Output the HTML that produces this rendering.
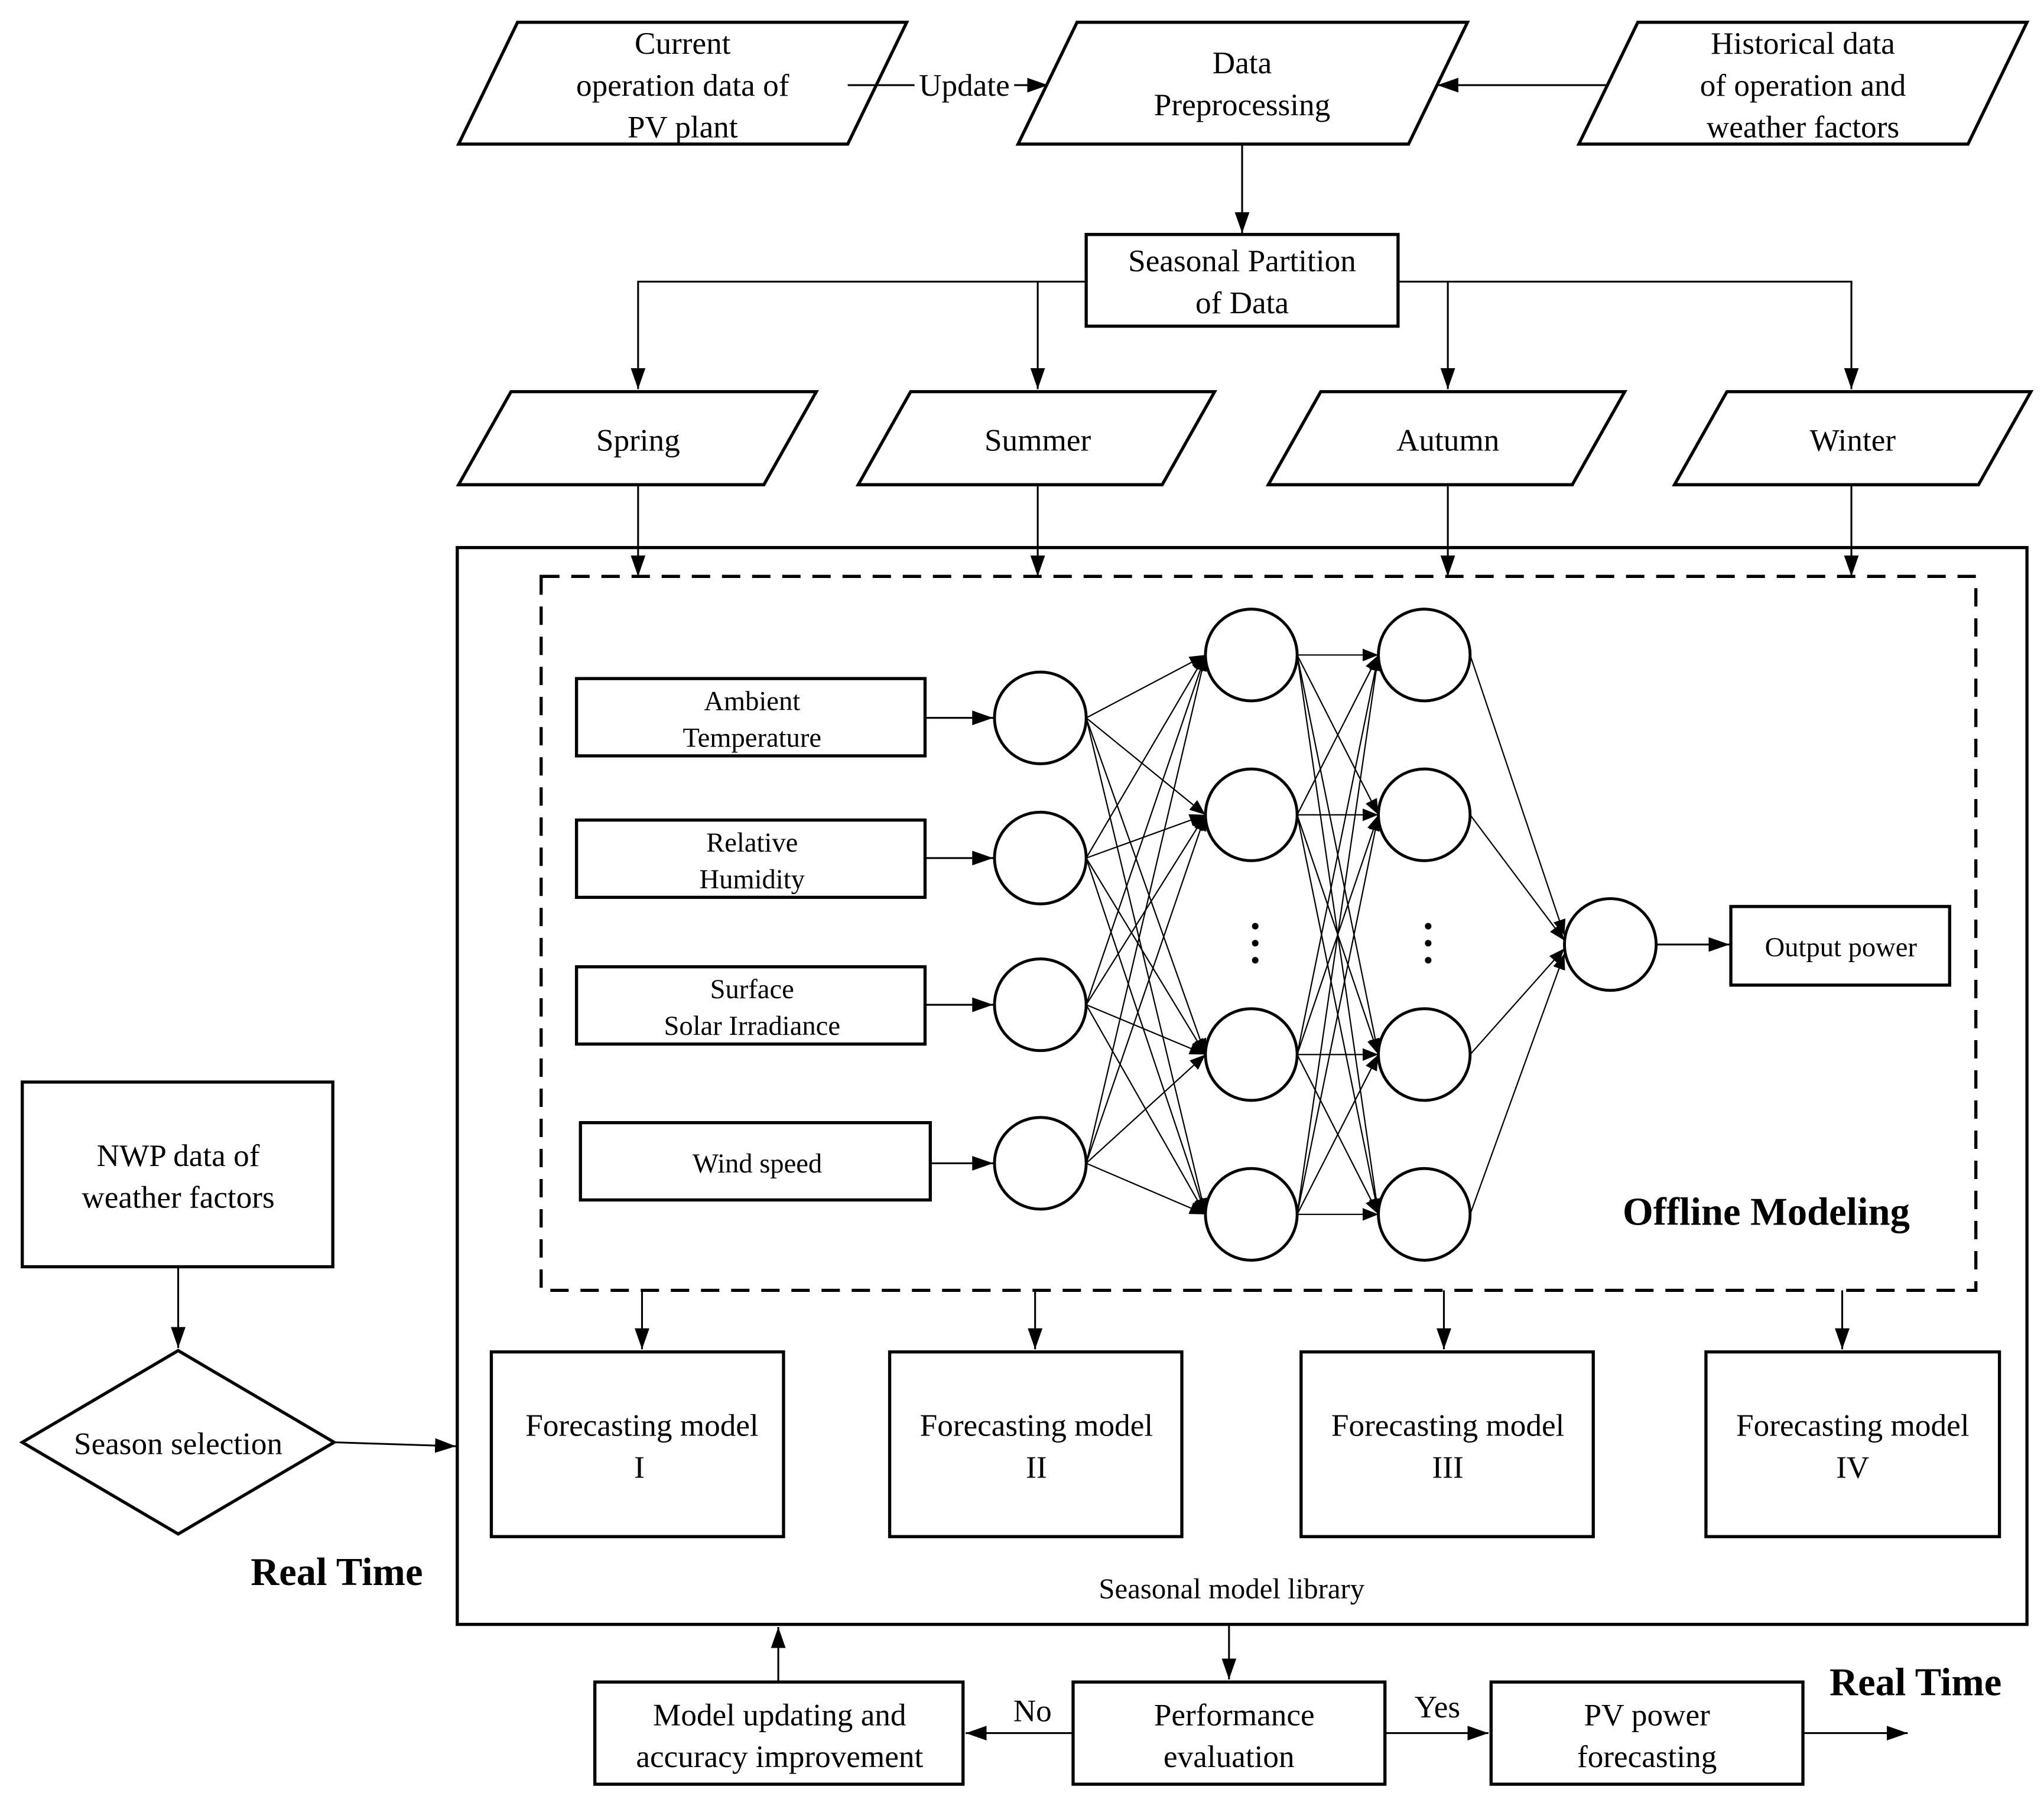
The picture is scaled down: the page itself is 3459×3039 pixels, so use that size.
<!DOCTYPE html>
<html><head><meta charset="utf-8"><style>html,body{margin:0;padding:0;background:#fff}svg{display:block}</style></head><body>
<svg width="3459" height="3039" viewBox="0 0 1560 1371" preserveAspectRatio="none" xmlns="http://www.w3.org/2000/svg" font-family="Liberation Serif, serif">
<defs>
<marker id="a" viewBox="0 0 10 10" refX="10" refY="5" markerWidth="12" markerHeight="12" markerUnits="userSpaceOnUse" orient="auto"><path d="M0,1L10,5L0,9z" fill="#000"/></marker>
<marker id="b" viewBox="0 0 10 10" refX="10" refY="5" markerWidth="16" markerHeight="16" markerUnits="userSpaceOnUse" orient="auto"><path d="M0,1.5L10,5L0,8.5z" fill="#000"/></marker>
</defs>
<rect width="1560" height="1371" fill="#fff"/>
<g fill="none" stroke="#000" stroke-width="2.4">
<polygon points="350,110 395,17 692,17 647,110"/>
<polygon points="777,110 822,17 1120,17 1075,110"/>
<polygon points="1205,110 1250,17 1547,17 1502,110"/>
<rect x="829" y="179" width="238" height="70"/>
<polygon points="350,370 390,299 623,299 583,370"/>
<polygon points="655,370 695,299 927,299 887,370"/>
<polygon points="968,370 1008,299 1240,299 1200,370"/>
<polygon points="1278,370 1318,299 1550,299 1510,370"/>
<rect x="349" y="418" width="1198" height="822"/>
<rect x="413" y="440" width="1095" height="545" stroke-dasharray="14,9"/>
<rect x="440" y="518" width="266" height="59"/>
<rect x="440" y="626" width="266" height="59"/>
<rect x="440" y="738" width="266" height="59"/>
<rect x="443" y="857" width="267" height="59"/>
<rect x="1321" y="692" width="167" height="60"/>
<rect x="375" y="1032" width="223" height="141"/>
<rect x="679" y="1032" width="223" height="141"/>
<rect x="993" y="1032" width="223" height="141"/>
<rect x="1302" y="1032" width="224" height="141"/>
<rect x="17" y="826" width="237" height="141"/>
<polygon points="17,1101 136,1031 255,1101 136,1171"/>
<rect x="819" y="1284" width="238" height="78"/>
<rect x="454" y="1284" width="281" height="78"/>
<rect x="1138" y="1284" width="238" height="78"/>
<g stroke-width="2.2">
<circle cx="794" cy="548" r="35"/><circle cx="794" cy="655" r="35"/><circle cx="794" cy="767" r="35"/><circle cx="794" cy="888" r="35"/>
<circle cx="955" cy="500" r="35"/><circle cx="955" cy="622" r="35"/><circle cx="955" cy="805" r="35"/><circle cx="955" cy="927" r="35"/>
<circle cx="1087" cy="500" r="35"/><circle cx="1087" cy="622" r="35"/><circle cx="1087" cy="805" r="35"/><circle cx="1087" cy="927" r="35"/>
<circle cx="1229" cy="721" r="35"/>
</g>
</g>
<g fill="none" stroke="#000" stroke-width="1.4" marker-end="url(#b)">
<path d="M647,65H800"/>
<path d="M1228,65H1097"/>
<path d="M948,110V178"/>
<path d="M829,215H487V297"/>
<path d="M792,215V297"/>
<path d="M1067,215H1413V297"/>
<path d="M1105,215V297"/>
<path d="M487,370V440"/><path d="M792,370V440"/><path d="M1105,370V440"/><path d="M1413,370V440"/>
<path d="M706,548H758"/><path d="M706,655H758"/><path d="M706,767H758"/><path d="M710,888H758"/>
<path d="M1264,721H1320"/>
<path d="M490,985V1030"/><path d="M790,985V1030"/><path d="M1102,985V1030"/><path d="M1406,985V1030"/>
<path d="M136,967V1029"/>
<path d="M255,1101L348,1104"/>
<path d="M938,1240V1282"/>
<path d="M819,1323H737"/>
<path d="M594,1284V1242"/>
<path d="M1057,1323H1136"/>
<path d="M1376,1323H1456"/>
</g>
<g stroke="#000" stroke-width="1" marker-end="url(#a)">
<path d="M829,548L920,500"/><path d="M829,548L920,622"/><path d="M829,548L920,805"/><path d="M829,548L920,927"/>
<path d="M829,655L920,500"/><path d="M829,655L920,622"/><path d="M829,655L920,805"/><path d="M829,655L920,927"/>
<path d="M829,767L920,500"/><path d="M829,767L920,622"/><path d="M829,767L920,805"/><path d="M829,767L920,927"/>
<path d="M829,888L920,500"/><path d="M829,888L920,622"/><path d="M829,888L920,805"/><path d="M829,888L920,927"/>
<path d="M990,500L1052,500"/><path d="M990,500L1052,622"/><path d="M990,500L1052,805"/><path d="M990,500L1052,927"/>
<path d="M990,622L1052,500"/><path d="M990,622L1052,622"/><path d="M990,622L1052,805"/><path d="M990,622L1052,927"/>
<path d="M990,805L1052,500"/><path d="M990,805L1052,622"/><path d="M990,805L1052,805"/><path d="M990,805L1052,927"/>
<path d="M990,927L1052,500"/><path d="M990,927L1052,622"/><path d="M990,927L1052,805"/><path d="M990,927L1052,927"/>
<path d="M1122,500L1194,714"/><path d="M1122,622L1194,718"/><path d="M1122,805L1194,724"/><path d="M1122,927L1194,728"/>
</g>
<g fill="#000"><circle cx="958" cy="707" r="2.5"/><circle cx="958" cy="720" r="2.5"/><circle cx="958" cy="733" r="2.5"/>
<circle cx="1090" cy="707" r="2.5"/><circle cx="1090" cy="720" r="2.5"/><circle cx="1090" cy="733" r="2.5"/></g>
<rect x="698" y="52" width="76" height="26" fill="#fff"/>
<g font-size="24" text-anchor="middle" fill="#000">
<text x="521" y="41">Current</text><text x="521" y="73">operation data of</text><text x="521" y="105">PV plant</text>
<text x="736" y="73">Update</text>
<text x="948" y="56">Data</text><text x="948" y="88">Preprocessing</text>
<text x="1376" y="41">Historical data</text><text x="1376" y="73">of operation and</text><text x="1376" y="105">weather factors</text>
<text x="948" y="207">Seasonal Partition</text><text x="948" y="239">of Data</text>
<text x="487" y="344">Spring</text><text x="792" y="344">Summer</text><text x="1105" y="344">Autumn</text><text x="1414" y="344">Winter</text>
<text x="490" y="1096">Forecasting model</text><text x="488" y="1128">I</text>
<text x="791" y="1096">Forecasting model</text><text x="791" y="1128">II</text>
<text x="1105" y="1096">Forecasting model</text><text x="1105" y="1128">III</text>
<text x="1414" y="1096">Forecasting model</text><text x="1414" y="1128">IV</text>
<text x="136" y="890">NWP data of</text><text x="136" y="922">weather factors</text>
<text x="136" y="1110">Season selection</text>
<text x="940" y="1220" font-size="22">Seasonal model library</text>
<text x="942" y="1317">Performance</text><text x="938" y="1349">evaluation</text>
<text x="595" y="1317">Model updating and</text><text x="595" y="1349">accuracy improvement</text>
<text x="1257" y="1317">PV power</text><text x="1257" y="1349">forecasting</text>
<text x="788" y="1314">No</text><text x="1097" y="1311">Yes</text>
</g>
<g font-size="21" text-anchor="middle" fill="#000">
<text x="574" y="542">Ambient</text><text x="574" y="570">Temperature</text>
<text x="574" y="650">Relative</text><text x="574" y="678">Humidity</text>
<text x="574" y="762">Surface</text><text x="574" y="790">Solar Irradiance</text>
<text x="578" y="895">Wind speed</text>
<text x="1405" y="730">Output power</text>
</g>
<g font-size="30" font-weight="bold" text-anchor="middle" fill="#000">
<text x="1348" y="935">Offline Modeling</text>
<text x="257" y="1210">Real Time</text>
<text x="1462" y="1294">Real Time</text>
</g>
</svg>
</body></html>
